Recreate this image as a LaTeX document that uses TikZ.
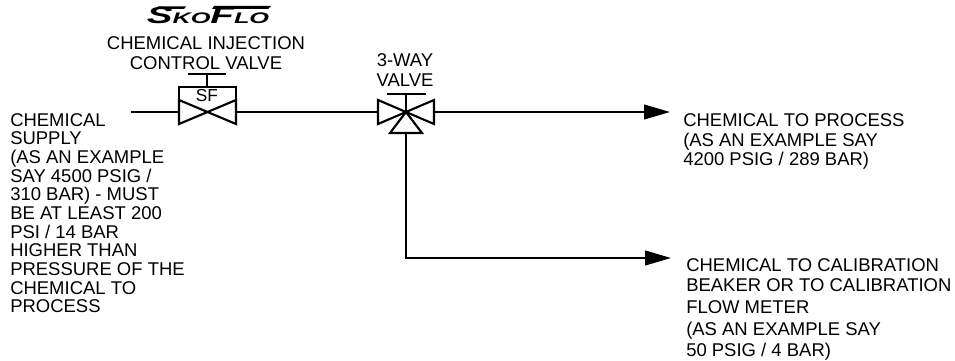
\documentclass[tikz,border=0pt]{standalone}
\usepackage{fontspec}
\setmainfont{Liberation Sans}
\usetikzlibrary{calc,positioning,arrows.meta}

\tikzset{
  pipe/.style={line width=1.6pt,black},
  valveline/.style={line width=1.6pt,black,line join=miter},
  note/.style={font=\fontsize{13.85}{14}\selectfont,align=left,anchor=north west,inner sep=0pt},
  notec/.style={font=\fontsize{13.85}{14.5}\selectfont,align=center,inner sep=0pt},
  flowtip/.style={-{Triangle[length=19.5pt,width=11pt]}}
}

\begin{document}
\begin{tikzpicture}[x=0.75pt,y=-0.75pt]
  \useasboundingbox (0,0) rectangle (955,360);

  % logo
  \node[inner sep=0pt] (logo) at (208,15) {\scalebox{1.65}[1]{\fontsize{17.5}{17.5}\selectfont\bfseries\itshape S\fontsize{11.5}{11.5}\selectfont KO\fontsize{17.5}{17.5}\selectfont F\fontsize{11.5}{11.5}\selectfont LO}};
  \fill (158,6.5) -- (186,6.5) -- (184,9) -- (156,9) -- cycle;
  \fill (214,6) -- (271,6) -- (268,9) -- (212,9) -- cycle;

  % labels of the valves
  \node[notec] (cvlabel) at (206,53) {CHEMICAL INJECTION\\CONTROL VALVE};
  \node[notec] (twlabel) at (405,70) {3-WAY\\VALVE};

  % control valve
  \coordinate (cvc) at (207,112);
  \draw[valveline] (179,100) -- (236,124) -- (236,100) -- (179,124) -- cycle;
  \draw[valveline] (179,100) -- (179,87) -- (236,87) -- (236,100);
  \draw[valveline] (207,87) -- (207,74);
  \draw[valveline] (188,74) -- (226,74);
  \node[inner sep=0pt,font=\fontsize{13}{13}\selectfont] (sf) at (207,96) {SF};

  % 3-way valve
  \coordinate (twc) at (406,112);
  \draw[valveline] (378,100) -- (434,124) -- (434,100) -- (378,124) -- cycle;
  \draw[valveline] (twc) -- (390,133) -- (422,133) -- cycle;
  \draw[valveline] (twc) -- (406,94);
  \draw[valveline] (387,94) -- (426,94);

  % piping
  \coordinate (supply) at (131,112);
  \coordinate (cvin) at (179,112);
  \coordinate (cvout) at (236,112);
  \coordinate (twin) at (378,112);
  \coordinate (twout) at (434,112);
  \coordinate (twdown) at (406,133);
  \coordinate (corner) at (406,258);
  \coordinate (toprocess) at (670,112);
  \coordinate (tocal) at (671,258);
  \draw[pipe] (supply) -- (cvin);
  \draw[pipe] (cvout) -- (twin);
  \draw[pipe,flowtip] (twout) -- (toprocess);
  \draw[pipe,flowtip] (twdown) -- (corner) -- (tocal);

  % texts
  \node[note] (supplytxt) at (10,113) {CHEMICAL\\SUPPLY\\(AS AN EXAMPLE\\SAY 4500 PSIG /\\310 BAR) - MUST\\BE AT LEAST 200\\PSI / 14 BAR\\HIGHER THAN\\PRESSURE OF THE\\CHEMICAL TO\\PROCESS};
  \node[note] (processtxt) at (683,113) {CHEMICAL TO PROCESS\\[1.5pt](AS AN EXAMPLE SAY\\4200 PSIG / 289 BAR)};
  \node[note] (caltxt) at (686,258) {CHEMICAL TO CALIBRATION\\[1.5pt]BEAKER OR TO CALIBRATION\\[2.5pt]FLOW METER\\[2.5pt](AS AN EXAMPLE SAY\\[1.5pt]50 PSIG / 4 BAR)};
\end{tikzpicture}
\end{document}
